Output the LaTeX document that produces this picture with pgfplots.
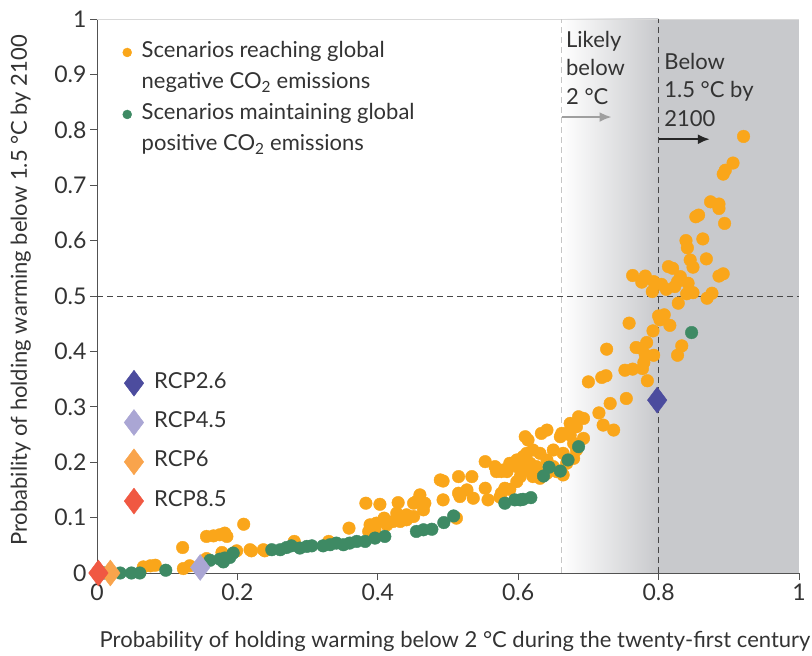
\documentclass[border=0pt]{standalone}
\usepackage{pgfplots}
\pgfplotsset{compat=1.18}
\usepackage{fontspec}
\setmainfont{Lato}
\usetikzlibrary{calc,arrows.meta}

\definecolor{negC}{RGB}{250,166,26}
\definecolor{posC}{RGB}{62,138,100}
\definecolor{rcpA}{RGB}{76,76,158}
\definecolor{rcpB}{RGB}{170,166,212}
\definecolor{rcpC}{RGB}{249,164,76}
\definecolor{rcpD}{RGB}{240,88,66}
\definecolor{shadeC}{RGB}{200,201,204}
\definecolor{txt}{RGB}{51,51,51}
\newcommand\fs{\fontsize{22}{28.5}\selectfont}
\newcommand\ft{\fontsize{23}{28}\selectfont}

\begin{document}
\begin{tikzpicture}
\begin{axis}[
  name=ax,
  set layers,
  scale only axis,
  width=702pt, height=554pt,
  xmin=0, xmax=1, ymin=0, ymax=1,
  axis x line*=bottom, axis y line*=left,
  axis line style={txt!85, line width=0.8pt},
  tick style={txt!85, line width=0.8pt},
  tick align=outside,
  major tick length=7pt,
  xtick={0,0.2,0.4,0.6,0.8,1},
  ytick={0,0.1,0.2,0.3,0.4,0.5,0.6,0.7,0.8,0.9,1},
  /pgf/number format/assume math mode=true,
  ticklabel style={font=\ft, text=txt},
  xlabel={Probability of holding warming below 2 °C during the twenty-first century},
  ylabel={Probability of holding warming below 1.5 °C by 2100},
  label style={font=\fs, text=txt},
  xlabel style={at={(axis description cs:0.51,0)}, anchor=base, yshift=-75pt},
  ylabel style={at={(axis description cs:-0.100,0.51)}, anchor=base},
  clip=false,
  legend style={at={(axis cs:0.0306,0.958)}, anchor=north west, draw=none, fill=none,
    inner sep=0pt, column sep=10pt, row sep=11pt,
    nodes={inner sep=0pt, text height=15pt, text depth=5pt, font=\fs, text=txt}},
  legend cell align=left,
]
\begin{pgfonlayer}{axis background}
  \fill[left color=white, right color=shadeC] (axis cs:0.662,0) rectangle (axis cs:0.8,1);
  \fill[shadeC] (axis cs:0.8,0) rectangle (axis cs:1,1);
\end{pgfonlayer}
\draw[gray!30, line width=0.8pt] (axis cs:0,1) -- (axis cs:1,1);
\draw[gray!45, line width=0.9pt, dash pattern=on 6pt off 4pt] (axis cs:0.662,0) -- (axis cs:0.662,1);
\draw[txt!90, line width=0.9pt, dash pattern=on 6pt off 4pt] (axis cs:0.8,0) -- (axis cs:0.8,1);
\draw[txt!90, line width=0.9pt, dash pattern=on 6pt off 4pt] (axis cs:0,0.5) -- (axis cs:1,0.5);
\draw[gray!75, line width=2.2pt, -{Latex[length=12pt,width=10pt]}] (axis cs:0.662,0.823) -- (axis cs:0.733,0.823);
\draw[black!85, line width=2.2pt, -{Latex[length=12pt,width=10pt]}] (axis cs:0.8,0.783) -- (axis cs:0.873,0.783);
\node[anchor=north west, align=left, inner sep=0pt, font=\fs, text=txt] at (axis cs:0.668,0.979) {Likely\\below\\2 °C};
\node[anchor=north west, align=left, inner sep=0pt, font=\fs, text=txt] at (axis cs:0.808,0.939) {Below\\1.5 °C by\\2100};

\addplot[only marks, mark=*, mark size=6.3pt, color=negC, mark options={draw=none, fill=negC},
  legend image post style={mark size=4.5pt}] table {
x y
0.921 0.788
0.906 0.740
0.895 0.727
0.892 0.720
0.874 0.670
0.886 0.666
0.886 0.658
0.857 0.646
0.853 0.643
0.894 0.631
0.839 0.600
0.863 0.603
0.841 0.587
0.868 0.567
0.845 0.565
0.849 0.552
0.814 0.553
0.820 0.550
0.763 0.537
0.781 0.536
0.776 0.525
0.793 0.526
0.804 0.521
0.831 0.535
0.827 0.526
0.842 0.523
0.823 0.517
0.811 0.512
0.791 0.508
0.886 0.536
0.892 0.540
0.840 0.504
0.849 0.506
0.876 0.505
0.869 0.496
0.828 0.487
0.800 0.464
0.808 0.466
0.802 0.457
0.758 0.451
0.816 0.447
0.792 0.437
0.726 0.404
0.768 0.407
0.783 0.416
0.776 0.405
0.793 0.393
0.833 0.410
0.827 0.393
0.781 0.394
0.779 0.380
0.777 0.369
0.752 0.366
0.763 0.368
0.700 0.345
0.719 0.353
0.725 0.356
0.784 0.347
0.754 0.315
0.731 0.306
0.715 0.289
0.686 0.282
0.693 0.279
0.721 0.267
0.736 0.258
0.674 0.270
0.641 0.258
0.633 0.252
0.610 0.246
0.614 0.240
0.660 0.246
0.669 0.252
0.679 0.234
0.683 0.222
0.662 0.252
0.674 0.249
0.693 0.243
0.683 0.264
0.621 0.222
0.631 0.216
0.650 0.222
0.664 0.216
0.641 0.204
0.607 0.210
0.598 0.204
0.617 0.198
0.626 0.192
0.650 0.192
0.669 0.198
0.612 0.186
0.598 0.192
0.588 0.198
0.641 0.180
0.603 0.174
0.621 0.174
0.631 0.171
0.579 0.186
0.655 0.183
0.664 0.177
0.603 0.204
0.612 0.216
0.679 0.207
0.553 0.201
0.567 0.192
0.569 0.183
0.576 0.183
0.584 0.183
0.598 0.165
0.581 0.153
0.588 0.151
0.576 0.144
0.574 0.137
0.493 0.166
0.515 0.174
0.534 0.174
0.553 0.153
0.515 0.144
0.517 0.138
0.527 0.150
0.536 0.135
0.557 0.132
0.493 0.132
0.512 0.099
0.489 0.168
0.460 0.141
0.455 0.129
0.467 0.126
0.465 0.114
0.451 0.126
0.429 0.127
0.403 0.124
0.383 0.126
0.409 0.099
0.427 0.108
0.441 0.105
0.451 0.102
0.422 0.093
0.398 0.090
0.389 0.087
0.387 0.075
0.396 0.078
0.413 0.087
0.432 0.093
0.441 0.096
0.359 0.081
0.281 0.057
0.330 0.057
0.237 0.042
0.218 0.042
0.239 0.040
0.220 0.040
0.199 0.040
0.178 0.037
0.209 0.088
0.156 0.066
0.166 0.067
0.175 0.069
0.182 0.072
0.185 0.066
0.122 0.046
0.066 0.011
0.076 0.013
0.083 0.014
0.123 0.008
0.132 0.013
0.156 0.026
};
\addlegendentry{Scenarios reaching global}
\addlegendimage{empty legend}
\addlegendentry{negative CO\textsubscript{2} emissions}

\addplot[only marks, mark=*, mark size=6.3pt, color=posC, mark options={draw=none, fill=posC},
  legend image post style={mark size=4.5pt}] table {
x y
0.010 0.000
0.033 0.000
0.049 0.000
0.061 0.000
0.098 0.005
0.161 0.023
0.175 0.025
0.182 0.027
0.189 0.028
0.194 0.036
0.180 0.020
0.249 0.042
0.261 0.042
0.270 0.046
0.277 0.049
0.289 0.045
0.299 0.048
0.306 0.049
0.322 0.049
0.332 0.051
0.341 0.054
0.351 0.051
0.360 0.054
0.370 0.057
0.382 0.057
0.396 0.063
0.410 0.066
0.455 0.075
0.465 0.078
0.477 0.079
0.494 0.091
0.508 0.103
0.581 0.126
0.595 0.132
0.603 0.132
0.607 0.133
0.618 0.136
0.636 0.175
0.644 0.191
0.660 0.184
0.671 0.204
0.686 0.228
0.847 0.434
};
\addlegendentry{Scenarios maintaining global}
\addlegendimage{empty legend}
\addlegendentry{positive CO\textsubscript{2} emissions}
\end{axis}

\begin{axis}[
  scale only axis,
  width=702pt, height=554pt,
  xmin=0, xmax=1, ymin=0, ymax=1,
  hide axis, clip=false,
  legend style={at={(axis cs:0.0385,0.3664)}, anchor=north west, draw=none, fill=none,
    inner sep=0pt, column sep=10.5pt, row sep=13.3pt,
    nodes={inner sep=0pt, text height=15pt, text depth=5pt, font=\fs, text=txt}},
  legend cell align=left,
]
\addplot[only marks, mark=diamond*, mark size=13pt, color=rcpA, mark options={draw=none, fill=rcpA}] coordinates {(0.798,0.312)};
\addlegendentry{RCP2.6}
\addplot[only marks, mark=diamond*, mark size=13pt, color=rcpB, mark options={draw=none, fill=rcpB}] coordinates {(0.147,0.010)};
\addlegendentry{RCP4.5}
\addplot[only marks, mark=diamond*, mark size=13pt, color=rcpC, mark options={draw=none, fill=rcpC}] coordinates {(0.019,0)};
\addlegendentry{RCP6}
\addplot[only marks, mark=diamond*, mark size=13pt, color=rcpD, mark options={draw=none, fill=rcpD}] coordinates {(0.002,0)};
\addlegendentry{RCP8.5}
\end{axis}

\pgfresetboundingbox
\path[use as bounding box] ($(ax.south west)+(-97pt,-83pt)$) rectangle ++(812pt,656pt);
\end{tikzpicture}
\end{document}
